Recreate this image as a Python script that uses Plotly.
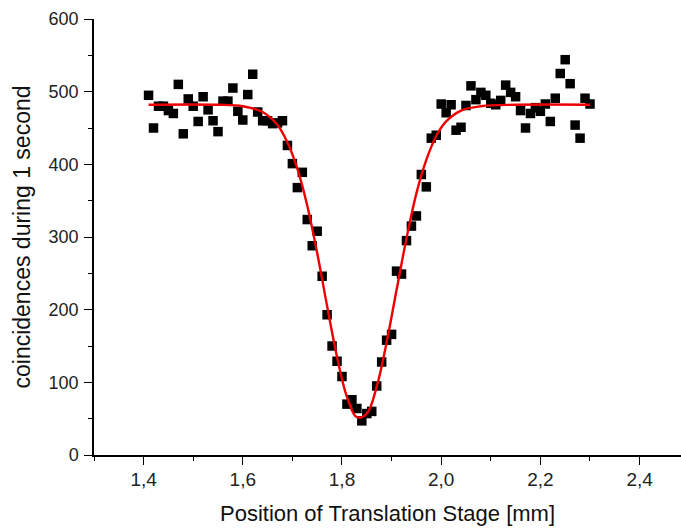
import plotly.graph_objects as go

# Measured data: position (mm) and coincidences per second
pos_mm = [round(1.41 + 0.01 * i, 2) for i in range(90)]
counts = [
    495, 450, 480, 480, 474, 470, 510, 442, 490, 480,
    459, 493, 475, 460, 445, 487, 487, 505, 473, 461,
    496, 524, 472, 460, 460, 456, 457, 460, 426, 401,
    368, 389, 324, 288, 308, 246, 193, 150, 129, 108,
    70, 76, 64, 47, 57, 60, 95, 128, 158, 166,
    253, 249, 295, 315, 329, 386, 369, 436, 440, 483,
    471, 482, 447, 451, 481, 508, 489, 499, 495, 484,
    482, 488, 509, 499, 493, 474, 450, 470, 478, 473,
    483, 459, 491, 525, 544, 511, 454, 436, 491, 483,
]

# Fit curve (red)
fit_x = [1.41, 1.55, 1.60, 1.64, 1.67, 1.69, 1.71, 1.73, 1.75, 1.77,
         1.79, 1.81, 1.83, 1.85, 1.87, 1.89, 1.91, 1.93, 1.95, 1.97,
         1.99, 2.01, 2.04, 2.08, 2.15, 2.30]
fit_y = [482, 482, 480, 472, 454, 430, 394, 343, 278, 205,
         135, 80, 52, 57, 94, 155, 227, 298, 360, 406,
         439, 459, 474, 480, 482, 482]

x_range = [1.3, 2.4835]
y_range = [0, 600]
x_title = "Position of Translation Stage [mm]"
y_title = "coincidences during 1 second"

fig = go.Figure()
fig.add_trace(go.Scatter(
    x=pos_mm, y=counts, mode="markers",
    marker=dict(symbol="square", size=9.5, color="black", line=dict(width=0)),
    showlegend=False, cliponaxis=False,
))
fig.add_trace(go.Scatter(
    x=fit_x, y=fit_y, mode="lines",
    line=dict(color="#ee0000", width=2.4, shape="spline", smoothing=1.0),
    showlegend=False,
))

font = "Liberation Sans, Arial, sans-serif"
fig.update_layout(
    width=681, height=528,
    margin=dict(l=94, r=0, t=19, b=73),
    paper_bgcolor="white", plot_bgcolor="white",
    separators=", ",
    font=dict(family=font, color="#222222", size=18),
    xaxis=dict(
        range=x_range, showgrid=False, zeroline=False,
        showline=True, linecolor="black", linewidth=1.5,
        ticks="outside", ticklen=8, tickwidth=1.3, tickcolor="black",
        tick0=1.4, dtick=0.2, tickformat=".1f",
        tickfont=dict(size=19, family=font, color="#222222"),
        ticklabelstandoff=-2,
        minor=dict(ticks="outside", ticklen=4, tickwidth=1.3, tickcolor="black", dtick=0.1, tick0=1.3),
        title=dict(text=x_title, font=dict(size=22, family=font, color="#111111"), standoff=17),
    ),
    yaxis=dict(
        range=y_range, showgrid=False, zeroline=False,
        showline=True, linecolor="black", linewidth=1.5,
        ticks="outside", ticklen=8, tickwidth=1.3, tickcolor="black",
        tick0=0, dtick=100,
        tickfont=dict(size=18, family=font, color="#222222"),
        ticklabelstandoff=2,
        minor=dict(ticks="outside", ticklen=4, tickwidth=1.3, tickcolor="black", dtick=50),
        title=dict(text=y_title, font=dict(size=23, family=font, color="#111111"), standoff=12),
    ),
)

fig.write_html("out.html")
